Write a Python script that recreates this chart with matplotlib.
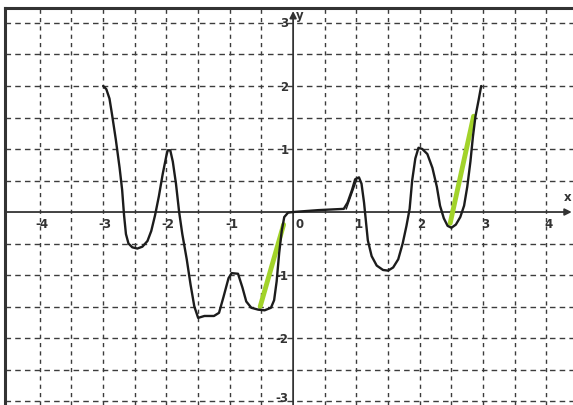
import numpy as np
import matplotlib.pyplot as plt

# traced curve (x, y)
curve_x = [-3.00, -2.95, -2.90, -2.86, -2.80, -2.74, -2.70, -2.67, -2.64, -2.60,
           -2.54, -2.46, -2.38, -2.30, -2.24, -2.18, -2.12, -2.06, -2.00, -1.98,
           -1.94, -1.90, -1.85, -1.80, -1.75, -1.68, -1.62, -1.56, -1.50, -1.40,
           -1.25, -1.17, -1.10, -1.02, -0.97, -0.87, -0.80, -0.74, -0.66, -0.55,
           -0.45, -0.35, -0.30, -0.26, -0.22, -0.18, -0.14, -0.08, 0.00, 0.40,
           0.80, 0.86, 0.93, 0.98, 1.04, 1.08, 1.12, 1.15, 1.18, 1.24,
           1.32, 1.42, 1.50, 1.58, 1.66, 1.73, 1.79, 1.84, 1.88, 1.93,
           1.98, 2.04, 2.12, 2.20, 2.27, 2.32, 2.38, 2.44, 2.50, 2.57,
           2.64, 2.70, 2.75, 2.80, 2.84, 2.88, 2.93, 2.97]
curve_y = [2.00, 1.95, 1.80, 1.55, 1.15, 0.70, 0.35, -0.05, -0.35, -0.50,
           -0.56, -0.58, -0.55, -0.46, -0.30, -0.05, 0.25, 0.60, 0.90, 0.98,
           0.98, 0.80, 0.45, 0.00, -0.35, -0.75, -1.15, -1.50, -1.68, -1.65,
           -1.65, -1.60, -1.35, -1.05, -0.97, -0.98, -1.20, -1.42, -1.52, -1.55,
           -1.56, -1.52, -1.40, -1.10, -0.65, -0.30, -0.08, -0.01, 0.00, 0.03,
           0.05, 0.15, 0.35, 0.52, 0.55, 0.45, 0.15, -0.15, -0.45, -0.70,
           -0.85, -0.92, -0.93, -0.88, -0.75, -0.50, -0.22, 0.05, 0.50, 0.85,
           1.02, 1.00, 0.92, 0.70, 0.40, 0.10, -0.10, -0.22, -0.25, -0.20,
           -0.08, 0.10, 0.40, 0.80, 1.20, 1.52, 1.78, 2.00]

# green secant segments
green1_x = [-0.52, -0.15]
green1_y = [-1.50, -0.20]
green2_x = [2.48, 2.85]
green2_y = [-0.18, 1.52]

x_ticks = [-4, -3, -2, -1, 0, 1, 2, 3, 4]
x_labels = ['-4', '-3', '-2', '-1', '0', '1', '2', '3', '4']
y_ticks = [3, 2, 1, -1, -2, -3]
y_labels = ['3', '2', '1', '-1', '-2', '-3']

fig = plt.figure(figsize=(5.73, 4.06), dpi=100)
ax = fig.add_axes([5/573, 0, 1 - 5/573, 397/406])
ax.set_xlim(-4.55, 4.42)
ax.set_ylim(-3.063, 3.238)
ax.set_xticks([])
ax.set_yticks([])
for s in ['right', 'bottom']:
    ax.spines[s].set_visible(False)
for s in ['left', 'top']:
    ax.spines[s].set_linewidth(2.2)
    ax.spines[s].set_color('#333333')

# dashed grid every 0.5
gc = '#3c3c3c'
for gx in np.arange(-4.0, 4.51, 0.5):
    if abs(gx) < 1e-9:
        continue
    ax.axvline(gx, color=gc, lw=1.0, ls=(0, (3, 3)), zorder=1)
for gy in np.arange(-3.0, 3.01, 0.5):
    if abs(gy) < 1e-9:
        continue
    ax.axhline(gy, color=gc, lw=1.0, ls=(0, (4, 3)), zorder=1)

# axes with arrows
ax.annotate('', xy=(4.40, 0), xytext=(-4.55, 0),
            arrowprops=dict(arrowstyle='-|>', color='#333333', lw=1.3,
                            mutation_scale=10, shrinkA=0, shrinkB=0), zorder=2)
ax.annotate('', xy=(0, 3.19), xytext=(0, -3.063),
            arrowprops=dict(arrowstyle='-|>', color='#333333', lw=1.3,
                            mutation_scale=10, shrinkA=0, shrinkB=0), zorder=2)

for xv, lab in zip(x_ticks, x_labels):
    ax.text(xv + (0.1 if xv == 0 else 0.03), -0.19, lab, ha='center', va='center',
            fontsize=8.5, fontweight='bold', color='#333333', zorder=2)
for yv, lab in zip(y_ticks, y_labels):
    yy = max(yv, -2.95)  # keep bottom label inside the picture
    ax.text(-0.07, yy, lab, ha='right', va='center', fontsize=8.5,
            fontweight='bold', color='#333333', zorder=2)
ax.text(4.34, 0.25, 'x', ha='center', va='center', fontsize=8.5,
        fontweight='bold', color='#333333')
ax.text(0.11, 3.14, 'y', ha='center', va='center', fontsize=8.5,
        fontweight='bold', color='#333333')

ax.plot(green1_x, green1_y, color='#a2d32a', lw=3.5, solid_capstyle='round', zorder=3)
ax.plot(green2_x, green2_y, color='#a2d32a', lw=3.5, solid_capstyle='round', zorder=3)
ax.plot(curve_x, curve_y, color='#1c1c1c', lw=1.7, solid_joinstyle='round',
        solid_capstyle='round', zorder=4)
# second pen stroke near x=1
ax.plot([0.84, 1.0], [0.05, 0.50], color='#1c1c1c', lw=1.0, zorder=4)

fig.savefig('out.png', dpi=100)
